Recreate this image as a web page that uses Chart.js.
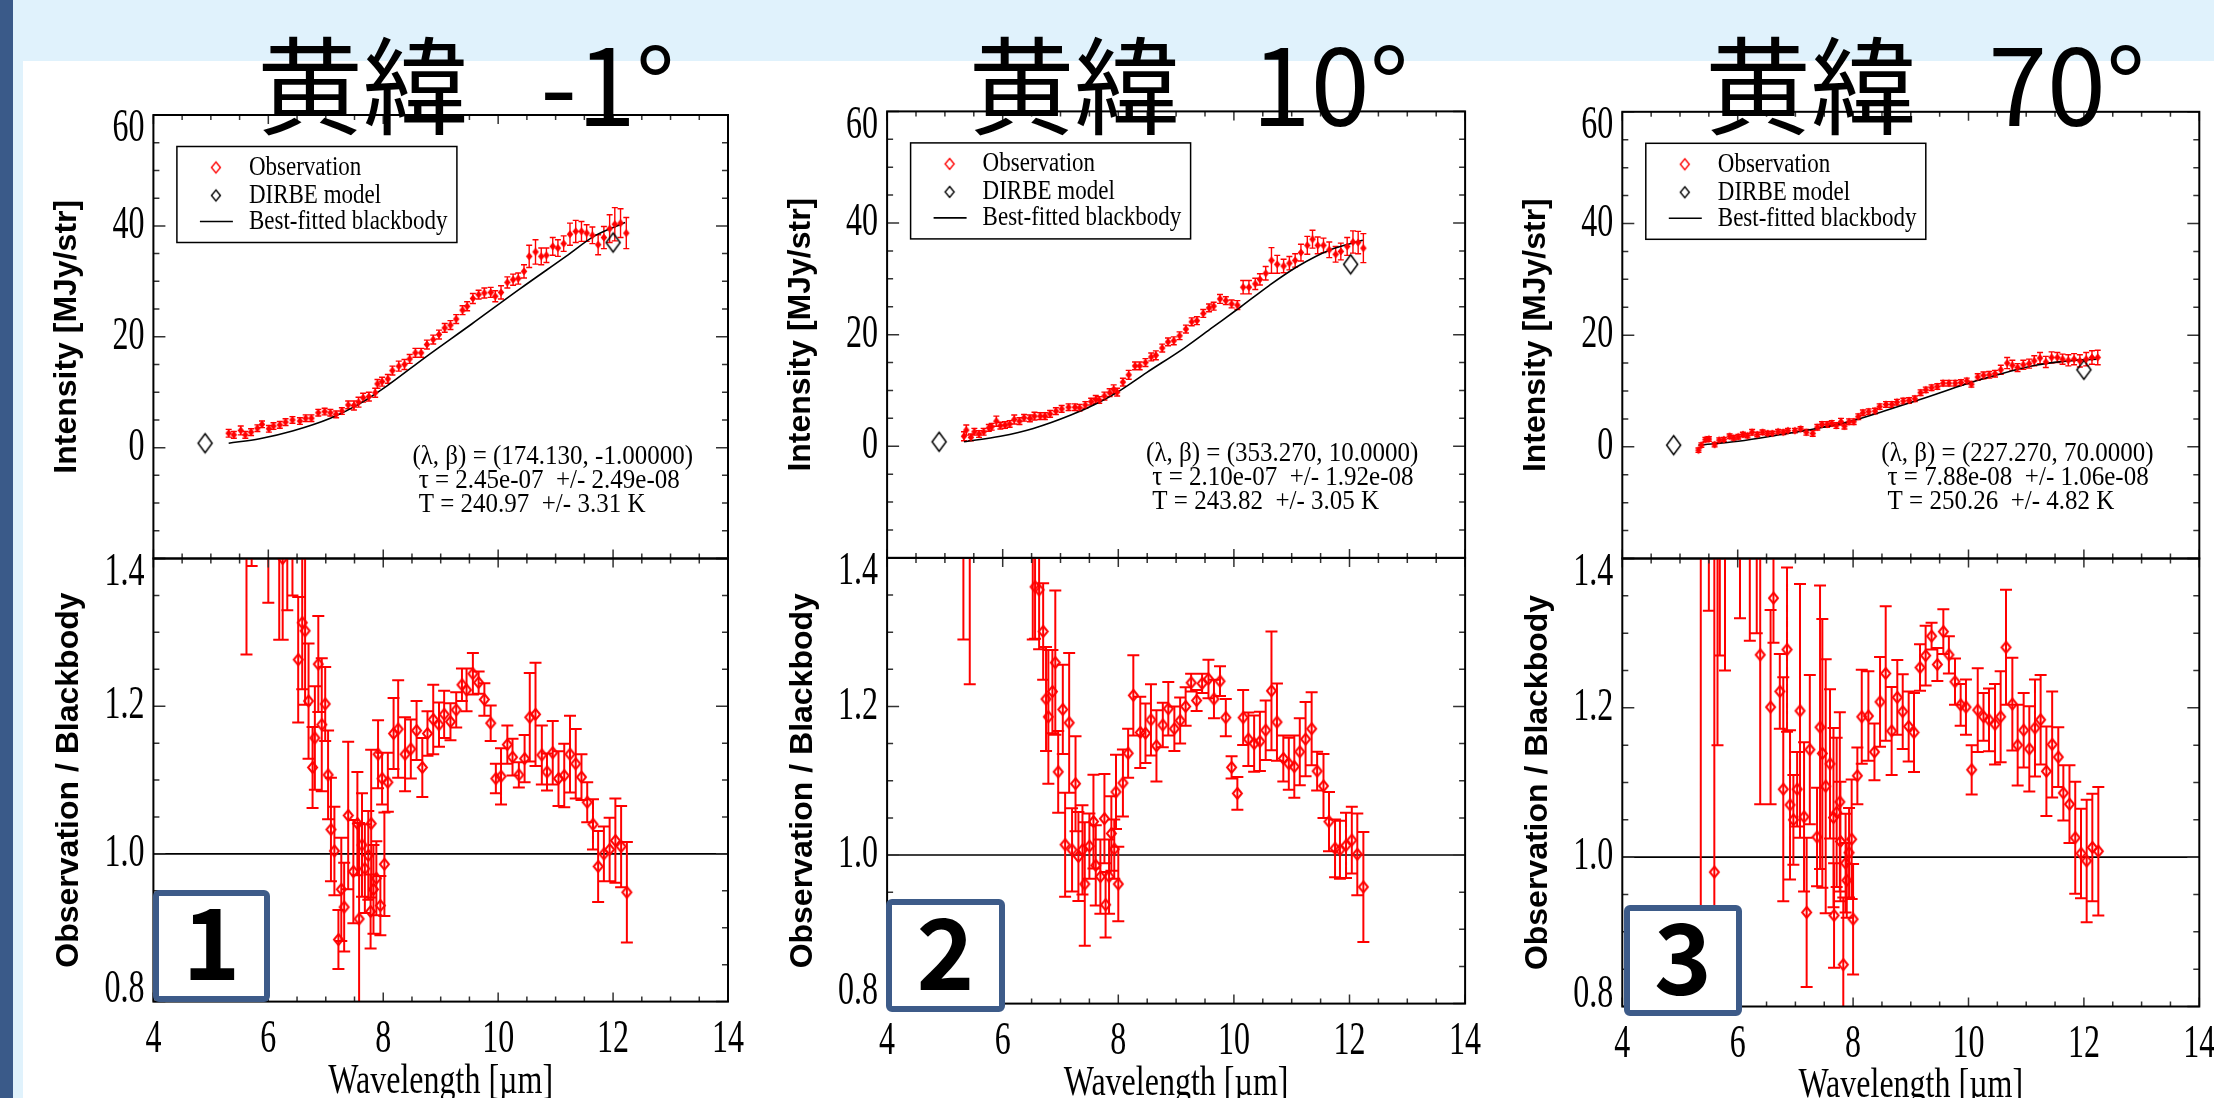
<!DOCTYPE html>
<html>
<head>
<meta charset="utf-8">
<script src="https://cdn.jsdelivr.net/npm/chart.js@4.4.0/dist/chart.umd.min.js"></script>
<style>
  body { margin: 0; width: 2214px; height: 1098px; position: relative; overflow: hidden; background: #fff; }
  #band { position: absolute; left: 0; top: 0; width: 2214px; height: 61px; background: #e0f2fc; }
  #edge { position: absolute; left: 0; top: 0; width: 23px; height: 1098px; background: #e0f2fc; }
  #stripe { position: absolute; left: 0; top: 0; width: 13px; height: 1098px; background: #3a5a89; }
  #stage { position: absolute; left: 0; top: 0; width: 2214px; height: 1098px; }
  #stage canvas { position: absolute; left: 0; top: 0; }
  .title { position: absolute; top: 27px; font-family: "Noto Sans CJK JP"; font-weight: 400; font-size: 106px; line-height: 1; white-space: pre; color: #000; z-index: 5; }
  .numbox { position: absolute; box-sizing: border-box; border: 6px solid #3d5b89; border-radius: 6px; background: #fff;
            display: flex; align-items: center; justify-content: center; z-index: 4;
            font-family: "Noto Sans CJK JP"; font-weight: bold; font-size: 98px; line-height: 1; color: #000; }
  .numbox span { position: relative; top: -9px; }
</style>
</head>
<body>
<div id="band"></div>
<div id="edge"></div>
<div id="stripe"></div>
<div id="stage"></div>

<script>
// ---- 黄緯 -1° ----
const wave1 = [5.31,5.40,5.52,5.60,5.70,5.81,5.89,6.01,6.09,6.20,
  6.30,6.42,6.55,6.65,6.75,6.87,6.98,7.08,7.18,7.28,
  7.39,7.49,7.57,7.65,7.75,7.86,7.90,7.98,8.08,8.16,
  8.27,8.37,8.46,8.56,8.66,8.76,8.87,8.97,9.07,9.17,
  9.27,9.38,9.46,9.56,9.66,9.76,9.87,9.95,10.05,10.16,
  10.26,10.35,10.45,10.54,10.65,10.75,10.84,10.95,11.04,11.14,
  11.25,11.35,11.45,11.54,11.64,11.74,11.84,11.94,12.03,12.13,
  12.23];
const inten1 = [2.6,2.3,3.1,2.3,2.8,3.5,4.2,3.4,3.9,4.1,
  4.6,5.0,4.8,5.3,5.3,6.3,6.5,6.3,6.0,6.6,
  7.7,7.6,8.2,9.0,9.2,9.9,11.5,11.9,12.4,13.9,
  14.7,15.0,16.0,17.1,17.1,18.6,19.5,20.4,21.6,22.1,
  23.2,24.8,25.5,26.9,27.6,27.9,28.0,27.3,28.0,29.8,
  30.3,30.5,31.8,34.5,35.3,34.5,34.7,36.3,36.0,36.8,
  38.5,39.0,39.0,38.7,38.3,36.6,37.9,39.5,40.3,40.5,
  38.7];
const intenErr1 = [0.7,0.6,0.8,0.6,0.6,0.6,0.6,0.6,0.6,0.6,
  0.6,0.6,0.6,0.6,0.6,0.6,0.6,0.6,0.6,0.6,
  0.7,0.8,0.9,0.8,0.8,0.8,0.8,0.8,0.8,0.8,
  0.9,0.9,0.8,0.8,0.8,0.8,0.8,0.8,0.8,0.8,
  0.8,0.8,0.8,0.9,0.8,0.9,0.9,1.0,1.2,1.0,
  1.0,1.0,1.2,2.0,2.2,1.5,1.3,1.6,1.5,1.4,
  2.0,2.0,1.8,1.5,1.5,1.8,2.0,2.5,3.0,2.6,
  2.8];
const bbWave1 = [5.31,5.85,6.42,7.08,7.57,8.06,8.72,9.54,10.36,11.18,11.68,12.21];
const bb1 = [0.8,1.6,3.0,5.3,7.8,11.1,16.2,22.3,28.5,34.5,38.2,40.6];
const dirbeWave1 = [4.90, 12.00];
const dirbe1 = [0.8, 37.0];
const ratioWave1 = [5.62,5.71,6.00,6.19,6.25,6.33,6.42,
  6.52,6.59,6.64,6.70,6.77,6.81,6.87,6.93,6.99,7.04,
  7.09,7.15,7.22,7.27,7.32,7.39,7.48,7.55,7.58,7.63,
  7.68,7.74,7.78,7.79,7.83,7.88,7.91,7.95,7.98,8.02,
  8.08,8.18,8.26,8.38,8.48,8.58,8.68,8.77,8.87,8.97,
  9.06,9.17,9.27,9.37,9.45,9.56,9.66,9.76,9.87,9.96,
  10.05,10.16,10.25,10.36,10.46,10.55,10.65,10.76,10.85,10.95,
  11.05,11.15,11.25,11.35,11.45,11.55,11.65,11.74,11.84,11.94,
  12.04,12.14,12.24];
const ratio1 = [1.50,1.60,1.55,1.50,1.40,1.52,1.50,
  1.263,1.313,1.302,1.207,1.117,1.157,1.257,1.175,1.203,1.107,
  1.033,1.004,0.884,0.952,0.928,1.052,0.976,1.041,0.912,1.012,
  0.980,0.998,0.922,1.041,0.952,0.967,1.135,0.930,1.102,0.986,
  1.097,1.163,1.169,1.135,1.142,1.167,1.117,1.163,1.182,1.175,
  1.189,1.179,1.195,1.229,1.222,1.244,1.232,1.209,1.177,1.102,
  1.105,1.148,1.131,1.107,1.129,1.185,1.189,1.134,1.111,1.137,
  1.102,1.106,1.135,1.122,1.104,1.070,1.040,0.983,1.000,1.006,
  1.018,1.010,0.948];
const ratioErr1 = [0.23,0.21,0.21,0.21,0.11,0.19,0.15,
  0.085,0.09,0.10,0.078,0.055,0.07,0.065,0.09,0.05,0.06,
  0.07,0.06,0.04,0.07,0.06,0.10,0.07,0.07,0.13,0.07,
  0.06,0.06,0.05,0.10,0.06,0.05,0.046,0.04,0.035,0.07,
  0.04,0.048,0.066,0.05,0.04,0.04,0.04,0.03,0.047,0.03,
  0.032,0.025,0.024,0.022,0.029,0.028,0.015,0.022,0.024,0.02,
  0.038,0.026,0.025,0.017,0.032,0.06,0.07,0.04,0.025,0.043,
  0.037,0.043,0.052,0.047,0.031,0.027,0.034,0.048,0.037,0.043,
  0.057,0.055,0.068];
const notes1 = ['(λ, β) = (174.130, -1.00000)', ' τ = 2.45e-07  +/- 2.49e-08', ' T = 240.97  +/- 3.31 K'];

// ---- 黄緯 10° ----
const wave2 = [5.33,5.37,5.45,5.51,5.59,5.67,5.76,5.81,5.89,5.96,
  6.04,6.12,6.20,6.29,6.37,6.47,6.55,6.65,6.73,6.82,
  6.92,7.02,7.14,7.25,7.33,7.43,7.53,7.61,7.67,7.76,
  7.85,7.92,7.98,8.08,8.18,8.29,8.37,8.47,8.57,8.65,
  8.76,8.86,8.96,9.06,9.17,9.27,9.36,9.47,9.57,9.65,
  9.76,9.86,9.96,10.06,10.16,10.26,10.37,10.45,10.55,10.65,
  10.75,10.86,10.96,11.06,11.16,11.27,11.36,11.45,11.55,11.65,
  11.76,11.85,11.96,12.06,12.15,12.24];
const inten2 = [1.8,2.9,1.6,2.6,2.2,2.6,3.3,3.5,4.5,3.7,
  3.8,4.0,4.8,4.5,5.1,5.0,5.4,5.4,5.4,5.8,
  6.3,6.7,7.0,7.0,6.9,7.4,8.0,8.4,8.3,9.0,
  9.6,10.2,9.7,11.5,12.8,14.4,14.4,15.0,16.0,16.3,
  17.6,18.7,18.9,19.8,21.0,22.3,22.5,23.8,24.8,25.1,
  26.4,26.1,25.5,25.3,28.5,28.5,29.1,29.9,31.0,33.3,
  32.6,32.3,32.8,33.3,34.7,36.0,37.1,36.0,36.0,35.2,
  34.4,34.9,35.8,36.6,36.5,35.5];
const intenErr2 = [0.8,0.9,0.6,0.6,0.6,0.6,0.6,0.6,0.9,0.6,
  0.6,0.6,0.8,0.6,0.6,0.6,0.7,0.6,0.6,0.6,
  0.6,0.6,0.6,0.6,0.6,0.6,0.6,0.7,0.6,0.7,
  0.7,0.8,0.7,0.7,0.8,0.7,0.7,0.7,0.7,0.8,
  0.7,0.7,0.7,0.7,0.7,0.7,0.7,0.7,0.7,0.7,
  0.8,0.7,0.7,0.8,1.2,1.2,1.0,1.0,1.2,2.3,
  1.6,1.2,1.2,1.2,1.5,1.6,1.6,1.5,1.3,1.4,
  1.4,1.5,1.6,2.0,2.0,2.6];
const bbWave2 = [5.33,5.96,6.53,7.18,7.67,8.00,8.49,9.14,9.63,10.12,10.61,11.10,11.67,12.23];
const bb2 = [0.8,1.8,3.2,5.6,7.9,9.8,13.2,17.6,21.3,25.0,28.8,32.2,35.2,36.9];
const dirbeWave2 = [4.90, 12.02];
const dirbe2 = [0.8, 32.6];
const ratioWave2 = [5.32,5.43,6.52,
  6.56,6.63,6.70,6.75,6.79,6.86,6.91,6.96,7.04,7.08,
  7.15,7.20,7.26,7.31,7.38,7.42,7.50,7.57,7.61,7.69,
  7.76,7.78,7.84,7.88,7.93,7.96,8.00,8.08,8.17,8.26,
  8.38,8.47,8.565,8.66,8.77,8.865,8.97,9.07,9.165,9.26,
  9.355,9.45,9.56,9.655,9.76,9.86,9.96,10.06,10.16,10.25,
  10.35,10.45,10.55,10.65,10.745,10.855,10.95,11.045,11.14,11.24,
  11.345,11.44,11.55,11.645,11.75,11.835,11.94,12.04,12.135,12.24];
const ratio2 = [1.60,1.70,1.50,
  1.361,1.357,1.301,1.210,1.186,1.220,1.259,1.112,1.196,1.014,
  1.178,1.007,1.096,0.998,1.007,0.961,1.012,1.045,0.986,0.971,
  1.049,0.933,0.971,1.029,1.008,1.085,0.961,1.097,1.137,1.215,
  1.165,1.164,1.182,1.147,1.175,1.197,1.170,1.181,1.200,1.232,
  1.208,1.231,1.237,1.210,1.234,1.185,1.118,1.083,1.185,1.156,
  1.150,1.153,1.168,1.221,1.179,1.130,1.123,1.119,1.139,1.156,
  1.170,1.113,1.093,1.045,1.009,1.007,1.013,1.020,1.001,0.957];
const ratioErr2 = [0.31,0.47,0.21,
  0.07,0.08,0.065,0.07,0.09,0.056,0.097,0.055,0.06,0.07,
  0.094,0.056,0.064,0.06,0.06,0.083,0.044,0.063,0.054,0.05,
  0.06,0.044,0.05,0.05,0.04,0.05,0.05,0.045,0.033,0.054,
  0.048,0.04,0.048,0.048,0.03,0.036,0.03,0.031,0.026,0.012,
  0.014,0.013,0.026,0.026,0.02,0.025,0.015,0.022,0.037,0.036,
  0.038,0.04,0.04,0.08,0.052,0.031,0.035,0.042,0.045,0.05,
  0.049,0.026,0.043,0.04,0.039,0.039,0.044,0.045,0.055,0.074];
const notes2 = ['(λ, β) = (353.270, 10.0000)', ' τ = 2.10e-07  +/- 1.92e-08', ' T = 243.82  +/- 3.05 K'];

// ---- 黄緯 70° ----
const wave3 = [5.32,5.37,5.44,5.50,5.60,5.68,5.76,5.86,5.93,6.01,
  6.09,6.17,6.25,6.34,6.43,6.52,6.60,6.70,6.79,6.87,
  6.99,7.09,7.19,7.30,7.38,7.46,7.55,7.63,7.71,7.79,
  7.85,7.93,8.01,8.09,8.17,8.27,8.38,8.46,8.57,8.67,
  8.76,8.87,8.97,9.07,9.17,9.26,9.36,9.46,9.56,9.66,
  9.77,9.87,9.97,10.05,10.16,10.26,10.36,10.46,10.56,10.67,
  10.76,10.85,10.95,11.05,11.14,11.24,11.34,11.44,11.54,11.63,
  11.73,11.83,11.93,12.04,12.14,12.24];
const inten3 = [-0.6,0.3,1.3,1.4,0.4,1.2,1.3,1.9,1.6,1.8,
  2.2,2.0,2.6,2.2,2.6,2.4,2.4,2.7,2.6,2.9,
  2.9,3.2,2.6,2.4,3.5,4.0,4.0,4.2,3.8,4.5,
  3.7,4.5,4.5,5.4,6.1,6.3,6.4,7.2,7.6,7.6,
  8.0,8.2,8.3,8.6,9.7,10.2,10.6,10.8,11.4,11.4,
  11.4,11.5,11.8,11.2,12.5,12.8,12.9,13.1,13.8,15.0,
  14.6,14.2,14.7,14.9,15.4,15.9,15.2,16.0,16.0,15.7,
  15.5,15.7,15.4,15.7,16.0,16.0];
const intenErr3 = [0.4,0.4,0.4,0.4,0.4,0.4,0.4,0.4,0.4,0.4,
  0.4,0.4,0.5,0.4,0.4,0.4,0.4,0.4,0.4,0.4,
  0.4,0.4,0.5,0.5,0.5,0.5,0.5,0.5,0.5,0.6,
  0.5,0.5,0.5,0.5,0.5,0.5,0.5,0.5,0.5,0.5,
  0.5,0.5,0.5,0.5,0.5,0.5,0.5,0.5,0.5,0.5,
  0.5,0.5,0.5,0.5,0.6,0.6,0.6,0.6,0.8,1.0,
  0.9,0.7,0.8,0.8,0.9,1.0,1.0,1.0,0.9,0.9,
  1.0,1.0,1.1,1.2,1.2,1.3];
const bbWave3 = [5.32,6.01,6.75,7.32,7.97,8.54,9.20,9.85,10.50,11.16,11.73,12.22];
const bb3 = [0.3,1.0,2.2,3.2,4.6,6.4,8.6,10.9,12.9,14.6,15.4,15.7];
const dirbeWave3 = [4.89, 12.00];
const dirbe3 = [0.3, 13.8];
const ratioWave3 = [5.36,5.50,5.595,5.65,5.69,5.78,6.04,6.21,6.33,
  6.39,6.57,6.62,6.73,6.79,6.855,6.907,6.965,7.03,7.08,
  7.15,7.195,7.25,7.375,7.427,7.467,7.525,7.60,7.66,7.67,
  7.715,7.77,7.78,7.83,7.87,7.89,7.93,7.975,8.00,8.074,
  8.15,8.265,8.37,8.467,8.565,8.668,8.766,8.86,8.963,9.055,
  9.16,9.257,9.36,9.46,9.564,9.66,9.766,9.864,9.956,10.055,
  10.16,10.26,10.355,10.46,10.557,10.65,10.76,10.852,10.956,11.054,
  11.152,11.25,11.35,11.45,11.556,11.644,11.75,11.85,11.95,12.048,
  12.146,12.25];
const ratio3 = [1.60,1.55,0.98,1.70,1.60,1.55,1.55,1.55,1.52,
  1.271,1.201,1.347,1.222,1.091,1.278,1.070,1.050,1.091,1.196,
  1.054,0.926,1.144,1.027,1.174,1.139,1.095,1.125,1.053,0.922,
  1.060,1.074,1.021,0.856,0.992,0.969,1.006,1.024,0.917,1.109,
  1.188,1.189,1.141,1.208,1.246,1.169,1.214,1.195,1.175,1.167,
  1.254,1.270,1.296,1.258,1.302,1.271,1.235,1.204,1.201,1.117,
  1.197,1.188,1.184,1.178,1.188,1.281,1.205,1.150,1.170,1.145,
  1.173,1.184,1.115,1.151,1.134,1.086,1.071,1.026,1.005,0.995,
  1.013,1.008];
const ratioErr3 = [0.75,0.22,0.50,0.55,0.33,0.30,0.23,0.26,0.22,
  0.20,0.13,0.06,0.05,0.15,0.11,0.10,0.06,0.05,0.17,
  0.10,0.10,0.10,0.066,0.19,0.18,0.17,0.10,0.12,0.07,
  0.10,0.12,0.08,0.09,0.066,0.05,0.06,0.08,0.074,0.038,
  0.063,0.06,0.038,0.06,0.09,0.059,0.05,0.05,0.047,0.053,
  0.031,0.04,0.018,0.022,0.03,0.025,0.031,0.028,0.037,0.033,
  0.056,0.032,0.042,0.054,0.061,0.077,0.062,0.054,0.05,0.057,
  0.065,0.06,0.06,0.071,0.04,0.037,0.052,0.075,0.06,0.082,
  0.072,0.086];
const notes3 = ['(λ, β) = (227.270, 70.0000)', ' τ = 7.88e-08  +/- 1.06e-08', ' T = 250.26  +/- 4.82 K'];

// axes: ticks and labels
const xMajorTicks = [4, 6, 8, 10, 12, 14];
const xMinorTicks = [4.5, 5, 5.5, 6.5, 7, 7.5, 8.5, 9, 9.5, 10.5, 11, 11.5, 12.5, 13, 13.5];
const xTickLabels = [4, 6, 8, 10, 12, 14];
const intenMajorTicks = [-20, 0, 20, 40, 60];
const intenMinorTicks = [-15, -10, -5, 5, 10, 15, 25, 30, 35, 45, 50, 55];
const intenTickLabels = [0, 20, 40, 60];
const ratioMajorTicks = [0.8, 1.0, 1.2, 1.4];
const ratioMinorTicks = [0.85, 0.9, 0.95, 1.05, 1.1, 1.15, 1.25, 1.3, 1.35];
const ratioTickLabels = [0.8, 1.0, 1.2, 1.4];
const legendLabels = ['Observation', 'DIRBE model', 'Best-fitted blackbody'];
const titles = ['黄緯   -1°', '黄緯   10°', '黄緯   70°'];

const panels = [
  { wave: wave1, inten: inten1, err: intenErr1, bbWave: bbWave1, bb: bb1, dWave: dirbeWave1, dirbe: dirbe1,
    rWave: ratioWave1, ratio: ratio1, rErr: ratioErr1, notes: notes1 },
  { wave: wave2, inten: inten2, err: intenErr2, bbWave: bbWave2, bb: bb2, dWave: dirbeWave2, dirbe: dirbe2,
    rWave: ratioWave2, ratio: ratio2, rErr: ratioErr2, notes: notes2 },
  { wave: wave3, inten: inten3, err: intenErr3, bbWave: bbWave3, bb: bb3, dWave: dirbeWave3, dirbe: dirbe3,
    rWave: ratioWave3, ratio: ratio3, rErr: ratioErr3, notes: notes3 }
];

// plot frames on the page (px)
const frames = [
  { left: 153.4, right: 728.0, top: 115.0, mid: 558.5, bottom: 1001.6 },
  { left: 887.1, right: 1465.1, top: 111.4, mid: 557.9, bottom: 1003.6 },
  { left: 1622.3, right: 2199.3, top: 111.8, mid: 558.5, bottom: 1006.5 }
];
const titleLeft = [257, 968.6, 1705];
const boxes = [
  { left: 153, top: 890, w: 117, h: 112 },
  { left: 886, top: 899, w: 119, h: 113 },
  { left: 1623.6, top: 905, w: 118.4, h: 111 }
];

const W = 2214, H = 1098;
const RED = '#ff0000';
const SERIF = '"Liberation Serif", "Times New Roman", serif';
const SANS = '"Liberation Sans", Arial, sans-serif';

function diamond(w, h, color, lw, filled) {
  const c = document.createElement('canvas');
  c.width = Math.ceil(w + lw * 2 + 2);
  c.height = Math.ceil(h + lw * 2 + 2);
  const g = c.getContext('2d');
  const cx = c.width / 2, cy = c.height / 2;
  g.beginPath();
  g.moveTo(cx, cy - h / 2);
  g.lineTo(cx + w / 2, cy);
  g.lineTo(cx, cy + h / 2);
  g.lineTo(cx - w / 2, cy);
  g.closePath();
  if (filled) { g.fillStyle = color; g.fill(); }
  g.strokeStyle = color;
  g.lineWidth = lw;
  g.stroke();
  return c;
}

const obsDot = diamond(5, 6, RED, 1.2, true);
const ratioMark = diamond(9, 11, RED, 2, false);
const dirbeMark = diamond(14, 19, '#000', 1.5, false);
const legendRed = diamond(9, 11, RED, 1.4, false);
const legendBlack = diamond(9, 11, '#000', 1.4, false);

const pts = (xs, ys) => xs.map((x, i) => ({ x: x, y: ys[i] }));

function line(ctx, x1, y1, x2, y2) { ctx.moveTo(x1, y1); ctx.lineTo(x2, y2); }

// the serif lettering is drawn tall and narrow
function tallText(ctx, text, x, y, sy) {
  ctx.save();
  ctx.translate(x, y);
  ctx.scale(1, sy);
  ctx.fillText(text, 0, 0);
  ctx.restore();
}

function drawTicks(ctx, chart, yMajor, yMinor) {
  const a = chart.chartArea, xs = chart.scales.x, ys = chart.scales.y;
  ctx.save();
  ctx.strokeStyle = '#333';
  ctx.lineWidth = 1.5;
  ctx.beginPath();
  xMajorTicks.forEach(v => { const p = xs.getPixelForValue(v); line(ctx, p, a.top, p, a.top + 9); line(ctx, p, a.bottom, p, a.bottom - 9); });
  xMinorTicks.forEach(v => { const p = xs.getPixelForValue(v); line(ctx, p, a.top, p, a.top + 5); line(ctx, p, a.bottom, p, a.bottom - 5); });
  yMajor.forEach(v => { const p = ys.getPixelForValue(v); line(ctx, a.left, p, a.left + 12, p); line(ctx, a.right, p, a.right - 12, p); });
  yMinor.forEach(v => { const p = ys.getPixelForValue(v); line(ctx, a.left, p, a.left + 6, p); line(ctx, a.right, p, a.right - 6, p); });
  ctx.stroke();
  ctx.strokeStyle = '#000';
  ctx.lineWidth = 2;
  ctx.strokeRect(a.left, a.top, a.right - a.left, a.bottom - a.top);
  ctx.restore();
}

// y tick labels stay inside the frame's height at both ends
function drawYLabels(ctx, chart, values, digits) {
  const a = chart.chartArea, ys = chart.scales.y;
  ctx.save();
  ctx.font = '32px ' + SERIF;
  ctx.fillStyle = '#000';
  ctx.textAlign = 'right';
  ctx.textBaseline = 'middle';
  values.forEach(v => {
    const p = Math.min(Math.max(ys.getPixelForValue(v), a.top + 14), a.bottom - 12);
    tallText(ctx, v.toFixed(digits), a.left - 9, p, 1.45);
  });
  ctx.restore();
}

function drawYTitle(ctx, text, x, y) {
  ctx.save();
  ctx.translate(x, y);
  ctx.rotate(-Math.PI / 2);
  ctx.font = 'bold 32px ' + SANS;
  ctx.fillStyle = '#000';
  ctx.textAlign = 'center';
  ctx.textBaseline = 'middle';
  ctx.fillText(text, 0, 0);
  ctx.restore();
}

function errorBars(chart) {
  const ctx = chart.ctx, a = chart.chartArea, xs = chart.scales.x, ys = chart.scales.y;
  ctx.save();
  ctx.beginPath();
  ctx.rect(a.left, a.top, a.right - a.left, a.bottom - a.top);
  ctx.clip();
  chart.data.datasets.forEach(ds => {
    if (!ds.errors) return;
    ctx.strokeStyle = ds.errColor;
    ctx.lineWidth = ds.errWidth;
    ctx.beginPath();
    ds.data.forEach((p, i) => {
      const e = ds.errors[i];
      const px = xs.getPixelForValue(p.x);
      const y1 = ys.getPixelForValue(p.y + e), y2 = ys.getPixelForValue(p.y - e);
      line(ctx, px, y1, px, y2);
      line(ctx, px - ds.errCap, y1, px + ds.errCap, y1);
      line(ctx, px - ds.errCap, y2, px + ds.errCap, y2);
    });
    ctx.stroke();
  });
  ctx.restore();
}

function newCanvas() {
  const cv = document.createElement('canvas');
  cv.width = W;
  cv.height = H;
  document.getElementById('stage').appendChild(cv);
  return cv;
}

function baseOptions(f, top, bottom, yMin, yMax) {
  return {
    responsive: false,
    animation: false,
    events: [],
    devicePixelRatio: 1,
    layout: { padding: { left: f.left, right: W - f.right, top: top, bottom: H - bottom } },
    scales: {
      x: { type: 'linear', min: 4, max: 14, display: false },
      y: { type: 'linear', min: yMin, max: yMax, display: false }
    },
    plugins: { legend: { display: false }, tooltip: { enabled: false } }
  };
}

function intensityChart(p, f) {
  return new Chart(newCanvas(), {
    type: 'scatter',
    data: {
      datasets: [
        { label: legendLabels[0], data: pts(p.wave, p.inten), errors: p.err, errColor: RED, errWidth: 1.4, errCap: 3,
          pointStyle: obsDot, pointRadius: 3 },
        { type: 'line', label: legendLabels[2], data: pts(p.bbWave, p.bb), borderColor: '#000', borderWidth: 1.6,
          pointRadius: 0, fill: false, cubicInterpolationMode: 'monotone' },
        { label: legendLabels[1], data: pts(p.dWave, p.dirbe), pointStyle: dirbeMark, pointRadius: 8 }
      ]
    },
    options: baseOptions(f, f.top, f.mid, -20, 60),
    plugins: [{
      id: 'intensityDeco',
      beforeDatasetsDraw: errorBars,
      afterDraw(chart) {
        const ctx = chart.ctx, a = chart.chartArea;
        drawTicks(ctx, chart, intenMajorTicks, intenMinorTicks);
        drawYLabels(ctx, chart, intenTickLabels, 0);
        drawYTitle(ctx, 'Intensity [MJy/str]', a.left - 86, (a.top + a.bottom) / 2);

        // legend box
        const bx = a.left + 23.5, by = a.top + 31.5;
        ctx.save();
        ctx.strokeStyle = '#000';
        ctx.lineWidth = 1.5;
        ctx.strokeRect(bx, by, 280, 96);
        ctx.drawImage(legendRed, bx + 39 - legendRed.width / 2, by + 21 - legendRed.height / 2);
        ctx.drawImage(legendBlack, bx + 39 - legendBlack.width / 2, by + 49 - legendBlack.height / 2);
        ctx.beginPath();
        ctx.lineWidth = 1.6;
        line(ctx, bx + 23, by + 75, bx + 56, by + 75);
        ctx.stroke();
        ctx.font = '23px ' + SERIF;
        ctx.fillStyle = '#000';
        ctx.textAlign = 'left';
        ctx.textBaseline = 'middle';
        tallText(ctx, legendLabels[0], bx + 72, by + 21, 1.2);
        tallText(ctx, legendLabels[1], bx + 72, by + 49, 1.2);
        tallText(ctx, legendLabels[2], bx + 72, by + 75, 1.2);

        // fit results
        ctx.font = '25px ' + SERIF;
        tallText(ctx, p.notes[0], a.left + 259, a.top + 342, 1.12);
        tallText(ctx, p.notes[1], a.left + 259, a.top + 366, 1.12);
        tallText(ctx, p.notes[2], a.left + 259, a.top + 390, 1.12);
        ctx.restore();
      }
    }]
  });
}

function ratioChart(p, f) {
  return new Chart(newCanvas(), {
    type: 'scatter',
    data: {
      datasets: [
        { label: 'Observation / Blackbody', data: pts(p.rWave, p.ratio), errors: p.rErr, errColor: RED, errWidth: 2, errCap: 6,
          pointStyle: ratioMark, pointRadius: 5, clip: 0 }
      ]
    },
    options: baseOptions(f, f.mid, f.bottom, 0.8, 1.4),
    plugins: [{
      id: 'ratioDeco',
      beforeDatasetsDraw(chart) {
        const ctx = chart.ctx, a = chart.chartArea;
        const p1 = chart.scales.y.getPixelForValue(1.0);
        ctx.save();
        ctx.strokeStyle = '#000';
        ctx.lineWidth = 1.6;
        ctx.beginPath();
        line(ctx, a.left, p1, a.right, p1);
        ctx.stroke();
        ctx.restore();
        errorBars(chart);
      },
      afterDraw(chart) {
        const ctx = chart.ctx, a = chart.chartArea, xs = chart.scales.x;
        drawTicks(ctx, chart, ratioMajorTicks, ratioMinorTicks);
        drawYLabels(ctx, chart, ratioTickLabels, 1);
        drawYTitle(ctx, 'Observation / Blackbody', a.left - 84, (a.top + a.bottom) / 2);
        ctx.save();
        ctx.font = '32px ' + SERIF;
        ctx.fillStyle = '#000';
        ctx.textAlign = 'center';
        ctx.textBaseline = 'middle';
        xTickLabels.forEach(v => tallText(ctx, String(v), xs.getPixelForValue(v), a.bottom + 38, 1.45));
        tallText(ctx, 'Wavelength [µm]', (a.left + a.right) / 2, a.bottom + 80, 1.3);
        ctx.restore();
      }
    }]
  });
}

panels.forEach((p, i) => {
  intensityChart(p, frames[i]);
  ratioChart(p, frames[i]);

  const t = document.createElement('div');
  t.className = 'title';
  t.style.left = titleLeft[i] + 'px';
  t.textContent = titles[i];
  document.body.appendChild(t);

  const b = boxes[i];
  const nb = document.createElement('div');
  nb.className = 'numbox';
  nb.style.left = b.left + 'px';
  nb.style.top = b.top + 'px';
  nb.style.width = b.w + 'px';
  nb.style.height = b.h + 'px';
  const s = document.createElement('span');
  s.textContent = String(i + 1);
  nb.appendChild(s);
  document.body.appendChild(nb);
});
</script>
</body>
</html>
